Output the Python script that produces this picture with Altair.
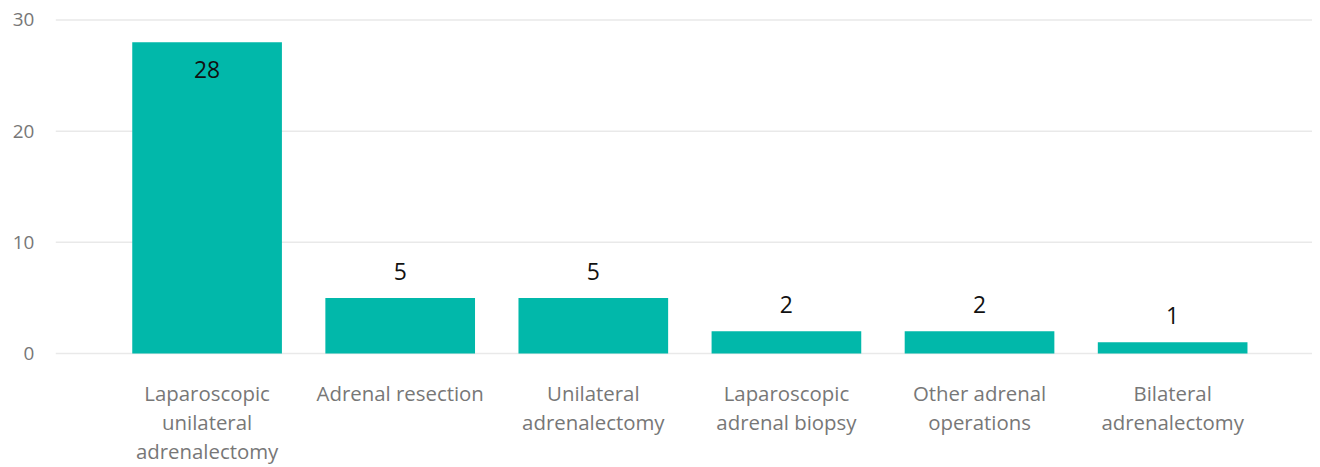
import altair as alt
import pandas as pd
import json

categories = [
    "Laparoscopic unilateral adrenalectomy",
    "Adrenal resection",
    "Unilateral adrenalectomy",
    "Laparoscopic adrenal biopsy",
    "Other adrenal operations",
    "Bilateral adrenalectomy",
]
values = [28, 5, 5, 2, 2, 1]
label_lines = [
    ["Laparoscopic", "unilateral", "adrenalectomy"],
    ["Adrenal resection"],
    ["Unilateral", "adrenalectomy"],
    ["Laparoscopic", "adrenal biopsy"],
    ["Other adrenal", "operations"],
    ["Bilateral", "adrenalectomy"],
]
y_ticks = [0, 10, 20, 30]

df = pd.DataFrame({"category": categories, "value": values})
grid_df = pd.DataFrame({"value": y_ticks})
mapping = json.dumps(dict(zip(categories, label_lines)))
label_expr = f"{mapping}[datum.label]"

FONT = "Open Sans"
COLOR = "#01B8AA"
W, H = 1262, 335

x_scale = alt.Scale(range=[55, 1219], paddingInner=0.225, paddingOuter=0.1125)
y_scale = alt.Scale(domain=[0, 30], nice=False)

x_enc = alt.X(
    "category:N",
    sort=categories,
    title=None,
    scale=x_scale,
    axis=alt.Axis(
        labelExpr=label_expr,
        labelAngle=0,
        labelFont=FONT,
        labelFontSize=20.5,
        labelColor="#777777",
        labelPadding=31,
        labelLineHeight=29.5,
        labelBaseline="top",
        labelLimit=300,
        ticks=False,
        domain=False,
        grid=False,
    ),
)
y_axis = alt.Axis(
    values=y_ticks,
    labelFont=FONT,
    labelFontSize=19,
    labelColor="#777777",
    labelPadding=22,
    ticks=False,
    domain=False,
    grid=False,
)

grid = (
    alt.Chart(grid_df)
    .mark_rule(color="#E9E9E9", strokeWidth=1.5)
    .encode(y=alt.Y("value:Q", scale=y_scale, axis=y_axis, title=None), x=alt.value(0), x2=alt.value(W))
)

bars = alt.Chart(df).mark_bar(color=COLOR).encode(
    x=x_enc, y=alt.Y("value:Q", scale=y_scale, axis=y_axis, title=None)
)

text_out = (
    alt.Chart(df)
    .transform_filter("datum.value < 20")
    .mark_text(font=FONT, fontSize=23, color="#111111", baseline="middle", dy=-25)
    .encode(x=alt.X("category:N", sort=categories), y=alt.Y("value:Q", scale=y_scale), text="value:Q")
)
text_in = (
    alt.Chart(df)
    .transform_filter("datum.value >= 20")
    .mark_text(font=FONT, fontSize=23, color="#111111", baseline="middle", dy=29)
    .encode(x=alt.X("category:N", sort=categories), y=alt.Y("value:Q", scale=y_scale), text="value:Q")
)

chart = (
    alt.layer(grid, bars, text_out, text_in)
    .properties(
        width=W,
        height=H,
        autosize=alt.AutoSizeParams(type="none"),
        padding={"left": 48, "top": 11, "right": 0, "bottom": 113},
    )
    .configure_view(stroke=None)
)

chart.save("out.html", embed_options={"renderer": "svg", "actions": False})
